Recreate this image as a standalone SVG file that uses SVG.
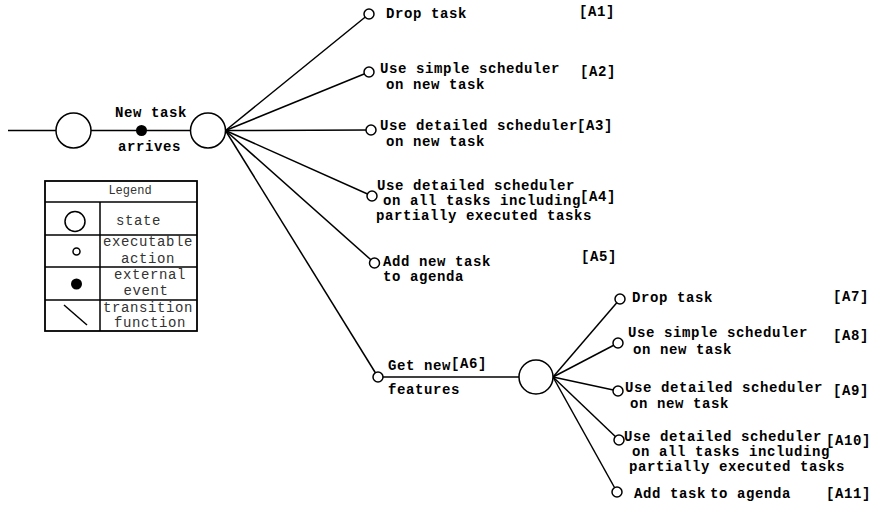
<svg xmlns="http://www.w3.org/2000/svg" width="873" height="506" viewBox="0 0 873 506">
<style>
.ln{stroke:#000;stroke-width:1.5;fill:none}
.st{stroke:#000;stroke-width:1.5;fill:#fff}
.ac{stroke:#000;stroke-width:1.5;fill:#fff}
.t{font-family:"Liberation Mono","Courier New",monospace;font-size:14px;letter-spacing:0.6px;font-weight:bold;fill:#000}
.lg{font-family:"Liberation Mono","Courier New",monospace;font-size:14px;letter-spacing:0.6px;fill:#333}
.lgh{font-family:"Liberation Mono","Courier New",monospace;font-size:12px;fill:#333}
</style>
<rect width="873" height="506" fill="#fff"/>
<g id="connectors">
<line class="ln" x1="8" y1="130.5" x2="56" y2="130.5"/>
<line class="ln" x1="91" y1="130.5" x2="191" y2="130.5"/>
<line class="ln" x1="225.5" y1="130.5" x2="369" y2="14"/>
<line class="ln" x1="225.5" y1="130.5" x2="369" y2="72"/>
<line class="ln" x1="225.5" y1="130.5" x2="371" y2="130"/>
<line class="ln" x1="225.5" y1="130.5" x2="372" y2="196"/>
<line class="ln" x1="225.5" y1="130.5" x2="374.5" y2="263"/>
<line class="ln" x1="225.5" y1="130.5" x2="378" y2="377"/>
<line class="ln" x1="378" y1="377" x2="519" y2="377"/>
<line class="ln" x1="553" y1="377" x2="620" y2="299"/>
<line class="ln" x1="553" y1="377" x2="618" y2="343"/>
<line class="ln" x1="553" y1="377" x2="618" y2="391"/>
<line class="ln" x1="553" y1="377" x2="619" y2="440"/>
<line class="ln" x1="553" y1="377" x2="617" y2="492"/>
</g>
<g id="s0"><circle class="st" cx="73.5" cy="130.5" r="17.5"/></g>
<g id="ev"><circle cx="141.5" cy="130.5" r="5.5" fill="#000"/><text class="t" x="115" y="117">New task</text><text class="t" x="118" y="151">arrives</text></g>
<g id="s1"><circle class="st" cx="208" cy="130.5" r="17.5"/></g>
<g id="a1"><circle class="ac" cx="369" cy="14" r="5"/><text class="t" x="386" y="18">Drop task</text><text class="t" x="579" y="16">[A1]</text></g>
<g id="a2"><circle class="ac" cx="369" cy="72" r="5"/><text class="t" x="380" y="73">Use simple scheduler</text><text class="t" x="386" y="89">on new task</text><text class="t" x="580" y="76">[A2]</text></g>
<g id="a3"><circle class="ac" cx="371" cy="130" r="5"/><text class="t" x="380" y="130">Use detailed scheduler</text><text class="t" x="577" y="130">[A3]</text><text class="t" x="386" y="146">on new task</text></g>
<g id="a4"><circle class="ac" cx="372" cy="196" r="5"/><text class="t" x="377" y="190">Use detailed scheduler</text><text class="t" x="383" y="205">on all tasks including</text><text class="t" x="580" y="201">[A4]</text><text class="t" x="376" y="220">partially executed tasks</text></g>
<g id="a5"><circle class="ac" cx="374.5" cy="263" r="5"/><text class="t" x="383" y="266">Add new task</text><text class="t" x="383" y="281">to agenda</text><text class="t" x="581" y="261">[A5]</text></g>
<g id="a6"><circle class="ac" cx="378" cy="377" r="5"/><text class="t" x="388" y="370">Get new</text><text class="t" x="451" y="368">[A6]</text><text class="t" x="388" y="394">features</text></g>
<g id="s2"><circle class="st" cx="536" cy="377" r="17"/></g>
<g id="a7"><circle class="ac" cx="620" cy="299" r="5"/><text class="t" x="632" y="302">Drop task</text><text class="t" x="833" y="301">[A7]</text></g>
<g id="a8"><circle class="ac" cx="618" cy="343" r="5"/><text class="t" x="628" y="337">Use simple scheduler</text><text class="t" x="633" y="354">on new task</text><text class="t" x="833" y="340">[A8]</text></g>
<g id="a9"><circle class="ac" cx="618" cy="391" r="5"/><text class="t" x="625" y="392">Use detailed scheduler</text><text class="t" x="630" y="407.5">on new task</text><text class="t" x="833" y="395">[A9]</text></g>
<g id="a10"><circle class="ac" cx="619" cy="440" r="5"/><text class="t" x="624" y="441">Use detailed scheduler</text><text class="t" x="826" y="445">[A10]</text><text class="t" x="632" y="456">on all tasks including</text><text class="t" x="629" y="471">partially executed tasks</text></g>
<g id="a11"><circle class="ac" cx="617" cy="492" r="5"/><text class="t" x="634" y="498">Add task</text><text class="t" x="710" y="498">to agenda</text><text class="t" x="826" y="498">[A11]</text></g>
<g id="legend">
<rect x="45" y="181" width="152" height="150" fill="#fff" stroke="#000" stroke-width="1.8"/>
<line class="ln" x1="45" y1="202" x2="197" y2="202"/>
<line class="ln" x1="45" y1="235" x2="197" y2="235"/>
<line class="ln" x1="45" y1="267" x2="197" y2="267"/>
<line class="ln" x1="45" y1="300" x2="197" y2="300"/>
<line class="ln" x1="100" y1="202" x2="100" y2="331"/>
<text class="lgh" x="130" y="194" text-anchor="middle">Legend</text>
<circle class="st" cx="75" cy="221.5" r="10"/>
<text class="lg" x="116" y="225">state</text>
<circle class="ac" cx="76.5" cy="251.5" r="3.5"/>
<text class="lg" x="148" y="246" text-anchor="middle">executable</text>
<text class="lg" x="148" y="263" text-anchor="middle">action</text>
<circle cx="76.5" cy="284" r="5.5" fill="#000"/>
<text class="lg" x="150" y="279" text-anchor="middle">external</text>
<text class="lg" x="146" y="295" text-anchor="middle">event</text>
<line class="ln" x1="64" y1="305" x2="87" y2="325"/>
<text class="lg" x="148" y="312" text-anchor="middle">transition</text>
<text class="lg" x="150" y="327" text-anchor="middle">function</text>
</g>
</svg>
